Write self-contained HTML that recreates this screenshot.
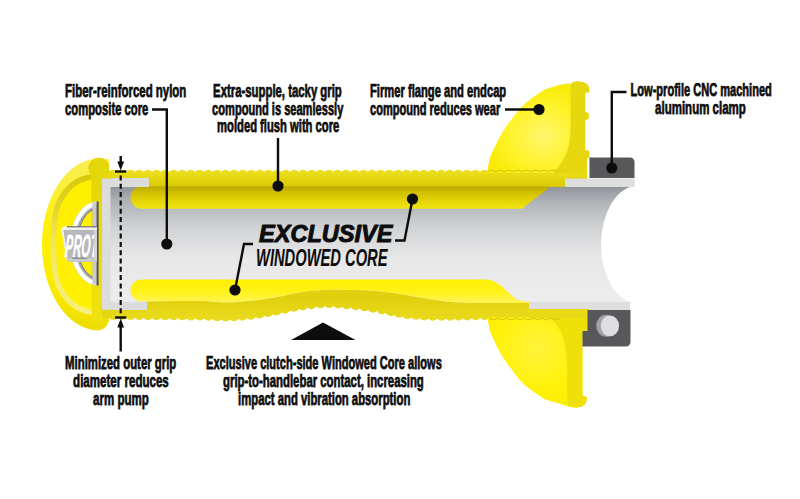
<!DOCTYPE html>
<html><head><meta charset="utf-8"><title>Windowed Core grip diagram</title>
<style>html,body{margin:0;padding:0;background:#fff}svg{display:block}text{font-family:"Liberation Sans",sans-serif}</style>
</head><body>
<svg width="800" height="499" viewBox="0 0 800 499">
<defs>
<linearGradient id="bore" x1="0" y1="0" x2="0" y2="1">
 <stop offset="0" stop-color="#8f9398"/><stop offset="0.12" stop-color="#acb0b4"/><stop offset="0.35" stop-color="#d0d2d4"/><stop offset="0.62" stop-color="#e8e8e9"/><stop offset="1" stop-color="#ededed"/>
</linearGradient>
<linearGradient id="band1" x1="0" y1="0" x2="0" y2="1">
 <stop offset="0" stop-color="#eee022"/><stop offset="0.5" stop-color="#e5d60e"/><stop offset="1" stop-color="#d8c802"/>
</linearGradient>
<linearGradient id="win1" x1="0" y1="0" x2="0" y2="1">
 <stop offset="0" stop-color="#bba700"/><stop offset="0.3" stop-color="#d2c000"/><stop offset="0.7" stop-color="#e6d606"/><stop offset="1" stop-color="#f2e416"/>
</linearGradient>
<linearGradient id="win2" x1="0" y1="279" x2="0" y2="303" gradientUnits="userSpaceOnUse">
 <stop offset="0" stop-color="#fff000"/><stop offset="0.5" stop-color="#fff216"/><stop offset="1" stop-color="#fff458"/>
</linearGradient>
<linearGradient id="band2" x1="0" y1="300" x2="0" y2="320" gradientUnits="userSpaceOnUse">
 <stop offset="0" stop-color="#e0d00e"/><stop offset="1" stop-color="#eadb1e"/>
</linearGradient>
<radialGradient id="flg" cx="0.55" cy="0.6" r="0.6">
 <stop offset="0" stop-color="#fff66e"/><stop offset="0.55" stop-color="#fff32c"/><stop offset="1" stop-color="#f8ea00"/>
</radialGradient>
<radialGradient id="flg2" cx="0.5" cy="0.4" r="0.7">
 <stop offset="0" stop-color="#fff43c"/><stop offset="0.6" stop-color="#fff10a"/><stop offset="1" stop-color="#fbec00"/>
</radialGradient>
<linearGradient id="cap" x1="0" y1="0" x2="1" y2="0">
 <stop offset="0" stop-color="#f7ea10"/><stop offset="1" stop-color="#fff200"/>
</linearGradient>
<linearGradient id="silver" x1="0" y1="0" x2="0" y2="1">
 <stop offset="0" stop-color="#fafafa"/><stop offset="0.6" stop-color="#ececec"/><stop offset="1" stop-color="#c4c5c7"/>
</linearGradient>
<clipPath id="capclip"><rect x="30" y="150" width="67" height="190"/></clipPath>
<clipPath id="badgeclip"><rect x="60" y="228" width="34" height="31"/></clipPath>
<linearGradient id="capg" x1="0" y1="158" x2="0" y2="331" gradientUnits="userSpaceOnUse">
 <stop offset="0" stop-color="#f8ee58"/><stop offset="0.3" stop-color="#fdf020"/><stop offset="0.5" stop-color="#ffef00"/><stop offset="0.8" stop-color="#f8e800"/><stop offset="1" stop-color="#ecdc00"/>
</linearGradient>
<linearGradient id="colg" x1="0" y1="168" x2="0" y2="321" gradientUnits="userSpaceOnUse">
 <stop offset="0" stop-color="#e5d608"/><stop offset="0.5" stop-color="#eadb0a"/><stop offset="1" stop-color="#f0e210"/>
</linearGradient>
<linearGradient id="grv" x1="0" y1="175" x2="0" y2="314" gradientUnits="userSpaceOnUse">
 <stop offset="0" stop-color="#d8c90c"/><stop offset="0.22" stop-color="#e2d424"/><stop offset="0.5" stop-color="#f2e85e"/><stop offset="1" stop-color="#f7ef7c"/>
</linearGradient>
</defs>
<rect width="800" height="499" fill="#fff"/>

<!-- bore -->
<rect x="108" y="186" width="530" height="117" fill="url(#bore)"/>
<ellipse cx="637" cy="244.5" rx="36" ry="58.4" fill="#fff"/>
<rect x="632" y="180" width="30" height="135" fill="#fff"/>


<!-- top window -->
<path d="M141.8,186.2 H551 L522,208.7 H141.8 A11.2,11.2 0 0 1 141.8,186.2 Z" fill="url(#win1)"/>
<!-- top band -->
<path d="M109,171.8 Q113.3,167.8 117.6,171.8 Q121.9,167.8 126.2,171.8 Q130.6,167.8 134.9,171.8 Q139.2,167.8 143.5,171.8 Q147.8,167.8 152.1,171.8 Q156.4,167.8 160.7,171.8 Q165.0,167.8 169.4,171.8 Q173.7,167.8 178.0,171.8 Q182.3,167.8 186.6,171.8 Q190.9,167.8 195.2,171.8 Q199.5,167.8 203.8,171.8 Q208.2,167.8 212.5,171.8 Q216.8,167.8 221.1,171.8 Q225.4,167.8 229.7,171.8 Q234.0,167.8 238.3,171.8 Q242.7,167.8 247.0,171.8 Q251.3,167.8 255.6,171.8 Q259.9,167.8 264.2,171.8 Q268.5,167.8 272.8,171.8 Q277.1,167.8 281.5,171.8 Q285.8,167.8 290.1,171.8 Q294.4,167.8 298.7,171.8 Q303.0,167.8 307.3,171.8 Q311.6,167.8 315.9,171.8 Q320.3,167.8 324.6,171.8 Q328.9,167.8 333.2,171.8 Q337.5,167.8 341.8,171.8 Q346.1,167.8 350.4,171.8 Q354.7,167.8 359.1,171.8 Q363.4,167.8 367.7,171.8 Q372.0,167.8 376.3,171.8 Q380.6,167.8 384.9,171.8 Q389.2,167.8 393.5,171.8 Q397.9,167.8 402.2,171.8 Q406.5,167.8 410.8,171.8 Q415.1,167.8 419.4,171.8 Q423.7,167.8 428.0,171.8 Q432.3,167.8 436.7,171.8 Q441.0,167.8 445.3,171.8 Q449.6,167.8 453.9,171.8 Q458.2,167.8 462.5,171.8 Q466.8,167.8 471.2,171.8 Q475.5,167.8 479.8,171.8 Q484.1,167.8 488.4,171.8 Q492.7,167.8 497.0,171.8 Q501.3,167.8 505.6,171.8 Q510.0,167.8 514.3,171.8 Q518.6,167.8 522.9,171.8 Q527.2,167.8 531.5,171.8 Q535.8,167.8 540.1,171.8 Q544.4,167.8 548.8,171.8 Q553.1,167.8 557.4,171.8 Q561.7,167.8 566.0,171.8 L587,171 L587,179 L565.5,179 L565.5,187 L550,187 L549,186.5 L109,186.5 Z" fill="url(#band1)"/>

<!-- lower window + band -->
<path d="M141.5,279.5 L485,279.5 C496,279.5 502,287 509,293 C514,298 518,301.5 529,301.5 L529,303 L529.0,303.1 L525.0,303.1 L521.0,303.1 L517.0,303.1 L513.0,303.1 L509.0,303.1 L505.0,303.1 L501.0,303.1 L497.0,303.1 L493.0,303.0 L489.0,303.0 L485.0,303.0 L481.0,302.9 L477.0,302.9 L473.0,302.9 L469.0,302.8 L465.0,302.7 L461.0,302.6 L457.0,302.4 L453.0,302.2 L449.0,301.9 L445.0,301.5 L441.0,301.0 L437.0,300.5 L433.0,299.8 L429.0,299.2 L425.0,298.5 L421.0,297.8 L417.0,297.1 L413.0,296.3 L409.0,295.6 L405.0,294.8 L401.0,294.2 L397.0,293.6 L393.0,293.0 L389.0,292.5 L385.0,292.0 L381.0,291.5 L377.0,291.2 L373.0,290.8 L369.0,290.6 L365.0,290.4 L361.0,290.3 L357.0,290.2 L353.0,290.1 L349.0,290.0 L345.0,289.9 L341.0,289.8 L337.0,289.8 L333.0,289.8 L329.0,289.8 L325.0,290.0 L321.0,290.2 L317.0,290.5 L313.0,290.9 L309.0,291.3 L305.0,291.8 L301.0,292.4 L297.0,293.0 L293.0,293.8 L289.0,294.6 L285.0,295.5 L281.0,296.3 L277.0,297.1 L273.0,297.8 L269.0,298.5 L265.0,299.1 L261.0,299.7 L257.0,300.2 L253.0,300.7 L249.0,301.1 L245.0,301.5 L241.0,301.8 L237.0,302.1 L233.0,302.3 L229.0,302.5 L225.0,302.5 L221.0,302.4 L217.0,302.2 L213.0,301.8 L209.0,301.5 L205.0,301.2 L201.0,301.0 L197.0,301.0 L193.0,300.9 L189.0,301.0 L185.0,301.0 L181.0,301.0 L177.0,301.1 L173.0,301.1 L169.0,301.2 L165.0,301.2 L161.0,301.3 L157.0,301.4 L153.0,301.4 L149.0,301.5 L147.0,301.5 L141.5,301.5 A11,11 0 0 1 141.5,279.5 Z" fill="url(#win2)"/>
<path d="M147,301.5 L147.0,301.5 L151.0,301.5 L155.0,301.4 L159.0,301.3 L163.0,301.3 L167.0,301.2 L171.0,301.1 L175.0,301.1 L179.0,301.0 L183.0,301.0 L187.0,301.0 L191.0,300.9 L195.0,301.0 L199.0,301.0 L203.0,301.1 L207.0,301.3 L211.0,301.7 L215.0,302.0 L219.0,302.3 L223.0,302.5 L227.0,302.5 L231.0,302.4 L235.0,302.2 L239.0,302.0 L243.0,301.6 L247.0,301.3 L251.0,300.9 L255.0,300.5 L259.0,299.9 L263.0,299.4 L267.0,298.8 L271.0,298.2 L275.0,297.5 L279.0,296.8 L283.0,295.9 L287.0,295.0 L291.0,294.2 L295.0,293.4 L299.0,292.7 L303.0,292.1 L307.0,291.5 L311.0,291.1 L315.0,290.7 L319.0,290.4 L323.0,290.1 L327.0,289.9 L331.0,289.8 L335.0,289.8 L339.0,289.8 L343.0,289.9 L347.0,289.9 L351.0,290.0 L355.0,290.1 L359.0,290.2 L363.0,290.3 L367.0,290.5 L371.0,290.7 L375.0,291.0 L379.0,291.4 L383.0,291.8 L387.0,292.2 L391.0,292.7 L395.0,293.3 L399.0,293.9 L403.0,294.5 L407.0,295.2 L411.0,295.9 L415.0,296.7 L419.0,297.5 L423.0,298.2 L427.0,298.8 L431.0,299.5 L435.0,300.1 L439.0,300.8 L443.0,301.3 L447.0,301.7 L451.0,302.1 L455.0,302.3 L459.0,302.5 L463.0,302.6 L467.0,302.7 L471.0,302.8 L475.0,302.9 L479.0,302.9 L483.0,303.0 L487.0,303.0 L491.0,303.0 L495.0,303.0 L499.0,303.1 L503.0,303.1 L507.0,303.1 L511.0,303.1 L515.0,303.1 L519.0,303.1 L523.0,303.1 L527.0,303.1 L531.0,303.1 L535.0,303.1 L539.0,303.0 L543.0,303.0 L547.0,303.0 L551.0,303.0 L555.0,303.0 L559.0,303.0 L560.0,303.0 L560,318 L489,318.0 Q484.7,322.0 480.4,318.1 Q476.0,322.2 471.7,318.3 Q467.4,322.5 463.1,318.6 Q458.8,322.7 454.5,318.7 Q450.1,322.8 445.8,318.8 Q441.5,322.9 437.2,318.8 Q432.9,322.8 428.5,318.7 Q424.2,322.5 419.9,318.2 Q415.6,321.8 411.3,317.4 Q407.0,320.9 402.6,316.4 Q398.3,319.7 394.0,314.9 Q389.7,318.0 385.4,313.1 Q381.0,316.2 376.7,311.3 Q372.4,314.6 368.1,309.9 Q363.8,313.2 359.5,308.6 Q355.1,312.1 350.8,307.6 Q346.5,311.2 342.2,306.7 Q337.9,310.4 333.5,306.1 Q329.2,310.0 324.9,306.0 Q320.6,310.2 316.3,306.6 Q312.0,311.1 307.6,307.6 Q303.3,312.3 299.0,309.0 Q294.7,313.7 290.4,310.6 Q286.0,315.5 281.7,312.5 Q277.4,317.3 273.1,314.2 Q268.8,319.0 264.5,315.8 Q260.1,320.5 255.8,317.2 Q251.5,321.8 247.2,318.3 Q242.9,322.7 238.5,319.0 Q234.2,323.2 229.9,319.4 Q225.6,323.5 221.3,319.5 Q217.0,323.3 212.6,319.1 Q208.3,322.8 204.0,318.6 Q199.7,322.5 195.4,318.4 Q191.0,322.4 186.7,318.4 Q182.4,322.3 178.1,318.3 Q173.8,322.3 169.5,318.2 Q165.1,322.2 160.8,318.2 Q156.5,322.2 152.2,318.2 Q147.9,322.1 143.5,318.1 Q139.2,322.1 134.9,318.1 Q130.6,322.1 126.3,318.1 Q122.0,322.1 117.6,318.0 Q113.3,322.0 109.0,318.0 L109,310 L147,310 Z" fill="url(#band2)"/>

<!-- core light strips -->
<path d="M102,178 H149 V187 H110.5 V302 H147 V310 H102 Z" fill="#dcdcdd"/>
<rect x="565.5" y="178.5" width="69" height="8.5" fill="#dedede"/>
<rect x="529" y="302" width="101" height="8" fill="#dedede"/>

<!-- top flange -->
<path d="M487.5,171.5 C487.8,169.6 488.6,163.5 489.5,160.0 C490.4,156.5 490.9,155.1 493.0,150.6 C495.1,146.1 498.7,138.5 502.0,133.0 C505.3,127.5 509.3,122.2 513.0,117.5 C516.7,112.8 519.2,108.9 524.0,104.5 C528.8,100.1 537.5,94.1 542.0,91.3 C546.5,88.5 547.7,88.7 551.0,87.6 C554.3,86.5 558.8,85.3 562.0,84.6 C565.2,83.9 569.0,83.8 570.4,83.6 L570.4,86 C570.4,82.6 573.5,81.4 578,81.4 C585,81.4 589.3,84.5 589.3,89.5 V92.4 H585.2 V112 L588.6,113.2 V118.6 L585.2,120.2 V150 L589.3,151 V158 H587 V173 H487.5 Z" fill="url(#flg)"/>
<path d="M570.6,86 C570.6,83 573,81.4 578,81.4 C585,81.4 589.3,84.5 589.3,89.5 V92.4 H585.2 V112 L588.6,113.2 V118.6 L585.2,120.2 V150 L589.3,151 V158 H587 V173 H553 C560,165 565,158 567.5,150 C570,142 570.6,134 570.6,126 Z" fill="#e6d70e"/>
<path d="M487,171.8 Q491.4,168.6 495.8,171.8 Q500.2,168.6 504.6,171.8 Q508.9,168.6 513.3,171.8 Q517.7,168.6 522.1,171.8 Q526.5,168.6 530.9,171.8 Q535.3,168.6 539.7,171.8 Q544.1,168.6 548.4,171.8 Q552.8,168.6 557.2,171.8 Q561.6,168.6 566.0,171.8" fill="none" stroke="#dccd10" stroke-width="1.4"/>
<!-- bottom flange -->
<path d="M487.5,317.3 C487.8,319.2 488.6,325.3 489.5,328.8 C490.4,332.3 490.9,333.7 493.0,338.2 C495.1,342.7 498.7,350.3 502.0,355.8 C505.3,361.3 509.3,366.6 513.0,371.3 C516.7,376.1 519.2,379.9 524.0,384.3 C528.8,388.7 537.5,394.7 542.0,397.5 C546.5,400.3 547.7,400.1 551.0,401.2 C554.3,402.3 560.2,403.7 562.0,404.2 C566,406.3 571,407.4 576.4,407.4 C581,407.4 584.5,405.5 585.6,403 C586.6,401 587,399 586.9,397.5 C585.5,397 584,396.3 582.4,395.3 V340 H588.5 V309 H529 V317 Z" fill="url(#flg2)"/>
<path d="M567.2,402 C567.5,404.5 569,407.4 576.4,407.4 C581,407.4 584.5,405.5 585.6,403 C586.6,401 587,399 586.9,397.5 C585.5,397 584,396.3 582.4,395.3 V340 H588.5 V309 H545 V317 C556,320 562,330 565,345 C567,356 567.2,366 567.2,376 Z" fill="#efe00a"/>
<rect x="528" y="309" width="60.5" height="9" fill="#e9da16"/>
<path d="M489,318 Q493.4,321.2 497.9,318.0 Q502.3,321.2 506.8,318.0 Q511.2,321.2 515.6,318.0 Q520.1,321.2 524.5,318.0 Q528.9,321.2 533.4,318.0 Q537.8,321.2 542.2,318.0 Q546.7,321.2 551.1,318.0 Q555.6,321.2 560.0,318.0" fill="none" stroke="#dccd10" stroke-width="1.4"/>

<!-- clamps -->
<path d="M589.5,157.5 H630 A4.5,4.5 0 0 1 634.5,162 V178 H589.5 Z" fill="#58585a"/>
<path d="M587.5,310 H630.5 V342 A4.5,4.5 0 0 1 626,346.5 H582.5 V331 H587.5 Z" fill="#58585a"/>
<ellipse cx="606.2" cy="325.8" rx="10" ry="11" fill="#9fa1a4"/>
<ellipse cx="609.9" cy="325.8" rx="9.2" ry="10.4" fill="#dddedf"/>

<!-- endcap -->
<path d="M97,159 H109.3 V171.2 H112 V178 H102 V310 H112 V317.5 H109.5 C109,325 104,330.5 97,330.5 A57,86 0 0 1 42,244.5 A57,86 0 0 1 90,159.6 Z" fill="url(#capg)"/>
<path d="M51,244.5 C51,225 52.5,212 56,203.7 C59,196 62,192 65,188.4 C68,185 71,182.5 75.7,179.4 C80,177 84,175.7 88.3,174.9 L94,174.3 V314.7 L88.3,314.1 C84,313.3 80,312 75.7,309.6 C71,306.5 68,304 65,300.6 C62,297 59,293 56,285.3 C52.5,277 51,264 51,244.5 Z" fill="#ffef00"/>
<path d="M53.4,244.5 C53.4,225 54.9,213 58.2,204.6 C61.2,197.2 64.2,193.2 67.2,189.8 C70.2,186.6 73.2,184.2 77.2,181.7 C81.2,179.3 85.2,178.1 89.2,177.3 L94,176.8" fill="none" stroke="url(#grv)" stroke-width="5.6"/>
<path d="M53.4,244.5 C53.4,264 54.9,276 58.2,284.4 C61.2,291.8 64.2,295.8 67.2,299.2 C70.2,302.4 73.2,304.8 77.2,307.3 C81.2,309.7 85.2,310.9 89.2,311.7 L94,312.2" fill="none" stroke="url(#grv)" stroke-width="5.6"/>
<rect x="100" y="170.6" width="12.5" height="8" fill="#e7d810"/>
<rect x="100" y="309.8" width="12.5" height="8.2" fill="#e4d512"/>
<rect x="91.5" y="168" width="10.5" height="153" fill="url(#colg)"/>
<circle cx="98.8" cy="168" r="10.5" fill="#e5d608"/>

<!-- PRO logo -->
<g clip-path="url(#capclip)">
<ellipse cx="98" cy="243.5" rx="24.3" ry="38.3" fill="none" stroke="#a9aaad" stroke-width="7.4"/>
<ellipse cx="98" cy="243.5" rx="25.6" ry="39.6" fill="none" stroke="#fcfcfc" stroke-width="4.6"/>
<ellipse cx="98" cy="243.5" rx="20.8" ry="34.8" fill="none" stroke="#77787b" stroke-width="1"/>
</g>
<rect x="92.5" y="202.5" width="5" height="82" fill="#c9cacc"/>
<rect x="96.6" y="201.5" width="2" height="84" fill="#515153"/>
<path d="M64.5,226.5 H97 V262 H70 C68,262 66.8,261 66.4,259 L61.6,231 C61.2,228.5 62.5,226.5 64.5,226.5 Z" fill="url(#silver)"/>
<path d="M63.2,229.8 H97 V258.2 H68 Z" fill="#b6b8bb"/>
<rect x="67" y="226.3" width="30" height="1.1" fill="#5d5d60"/>
<rect x="72" y="257.6" width="15" height="1.1" fill="#77787b"/>
<rect x="94" y="229.8" width="3" height="28.4" fill="#d4d5d7"/>
<g clip-path="url(#badgeclip)"><text transform="translate(64.6,256.5) skewX(-4) scale(0.365,1)" font-size="32" font-style="italic" font-weight="bold" fill="#fff" stroke="#fff" stroke-width="0.4">PROT</text></g>

<!-- leaders -->
<g fill="none" stroke="#0d0d0d" stroke-width="2.4">
<path d="M152,109.5 H166.8 V244"/>
<path d="M278,138 V186"/>
<path d="M505,109.5 H539"/>
<path d="M626.5,92 H611.8 V168"/>
<path d="M253,244 H244 L235,290"/>
<path d="M395,240.5 H404.5 L412.5,199"/>
<path d="M120.7,156 V164"/><path d="M115,171.5 H126.3"/>
<path d="M120.7,324 V351.5"/><path d="M115,317.5 H126.3"/>
<path d="M120.7,175.5 V314" stroke-dasharray="5 3.3" stroke-width="2.2"/>
</g>
<g fill="#0d0d0d">
<circle cx="166.8" cy="244" r="5.6"/><circle cx="278" cy="186" r="5.6"/><circle cx="539" cy="109.5" r="5.6"/>
<circle cx="611.8" cy="168" r="5.6"/><circle cx="235" cy="290" r="5.6"/><circle cx="412.5" cy="199" r="5.6"/>
<path d="M117.3,161.5 H124.1 L120.7,170.5 Z"/>
<path d="M117.3,327.5 H124.1 L120.7,318.5 Z"/>
<path d="M323,322.5 L355.5,340 H291 Z"/>
</g>

<!-- text -->
<g font-family="'Liberation Sans', sans-serif" font-weight="bold" fill="#0d0d0d" stroke="#0d0d0d" stroke-width="0.75" stroke-linejoin="round">
<text x="65.1" y="97.3" font-size="18" textLength="121.2" lengthAdjust="spacingAndGlyphs" text-anchor="start" >Fiber-reinforced nylon</text>
<text x="65.1" y="115" font-size="18" textLength="83.2" lengthAdjust="spacingAndGlyphs" text-anchor="start" >composite core</text>
<text x="213.1" y="97.3" font-size="18" textLength="128.7" lengthAdjust="spacingAndGlyphs" text-anchor="start" >Extra-supple, tacky grip</text>
<text x="212.1" y="114.8" font-size="18" textLength="131.2" lengthAdjust="spacingAndGlyphs" text-anchor="start" >compound is seamlessly</text>
<text x="217.1" y="132.3" font-size="18" textLength="122.2" lengthAdjust="spacingAndGlyphs" text-anchor="start" >molded flush with core</text>
<text x="506.2" y="97.3" font-size="18" textLength="136.2" lengthAdjust="spacingAndGlyphs" text-anchor="end" >Firmer flange and endcap</text>
<text x="500.2" y="114.8" font-size="18" textLength="130.2" lengthAdjust="spacingAndGlyphs" text-anchor="end" >compound reduces wear</text>
<text x="630.6" y="96.3" font-size="18" textLength="141.2" lengthAdjust="spacingAndGlyphs" text-anchor="start" >Low-profile CNC machined</text>
<text x="655.1" y="114" font-size="18" textLength="90.7" lengthAdjust="spacingAndGlyphs" text-anchor="start" >aluminum clamp</text>
<text x="65.1" y="369" font-size="18" textLength="111.2" lengthAdjust="spacingAndGlyphs" text-anchor="start" >Minimized outer grip</text>
<text x="73.1" y="387" font-size="18" textLength="95.7" lengthAdjust="spacingAndGlyphs" text-anchor="start" >diameter reduces</text>
<text x="93.1" y="405" font-size="18" textLength="55.7" lengthAdjust="spacingAndGlyphs" text-anchor="start" >arm pump</text>
<text x="206.1" y="369" font-size="18" textLength="235.7" lengthAdjust="spacingAndGlyphs" text-anchor="start" >Exclusive clutch-side Windowed Core allows</text>
<text x="223.1" y="387" font-size="18" textLength="200.7" lengthAdjust="spacingAndGlyphs" text-anchor="start" >grip-to-handlebar contact, increasing</text>
<text x="238.1" y="405" font-size="18" textLength="172.2" lengthAdjust="spacingAndGlyphs" text-anchor="start" >impact and vibration absorption</text>
<text x="259" y="242" font-size="23.2" textLength="133.5" lengthAdjust="spacingAndGlyphs" text-anchor="start" font-style="italic" stroke-width="1.0">EXCLUSIVE</text>
<text x="256" y="265.6" font-size="24.4" textLength="131.5" lengthAdjust="spacingAndGlyphs" text-anchor="start" font-style="italic" stroke-width="0.1">WINDOWED CORE</text>
</g>
</svg>
</body></html>
